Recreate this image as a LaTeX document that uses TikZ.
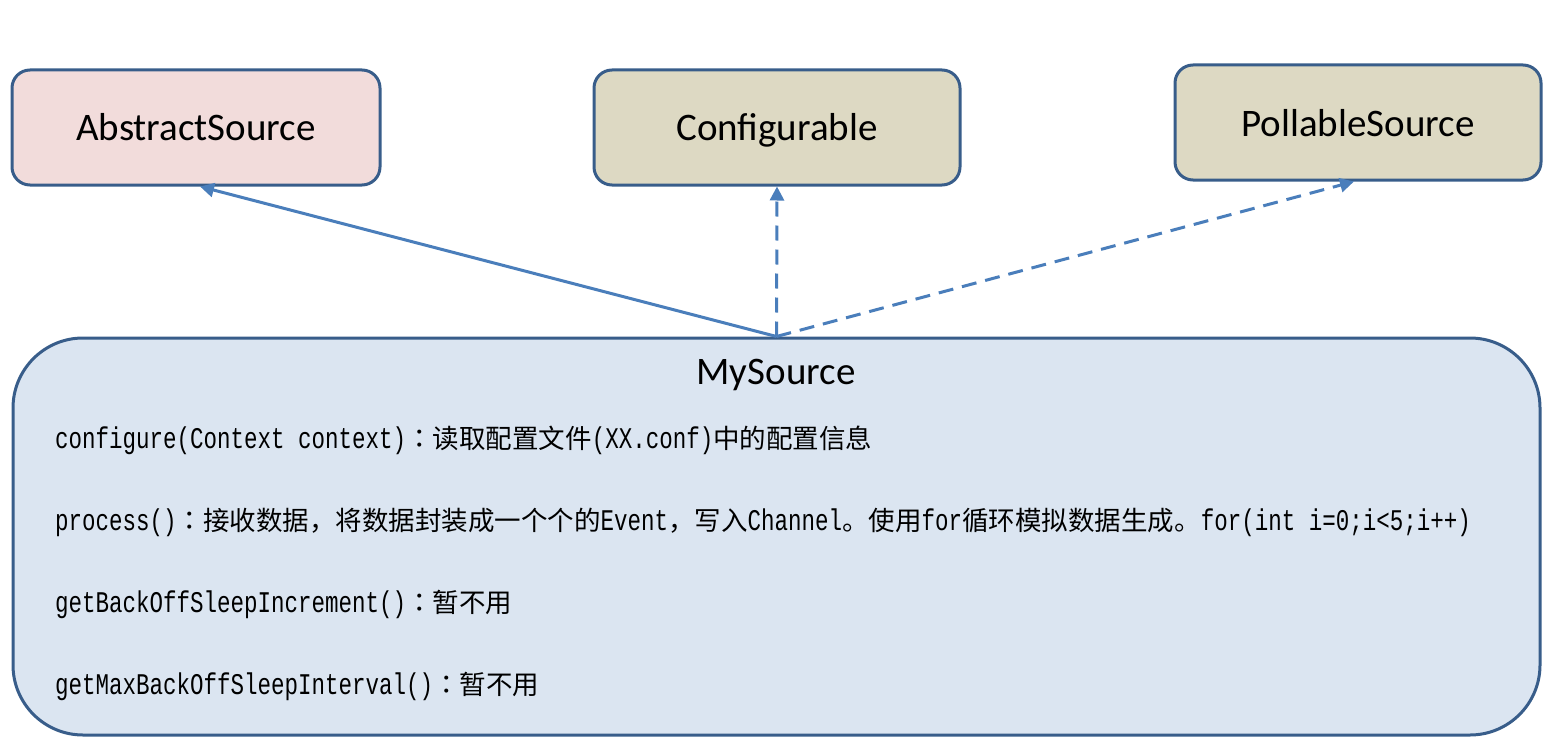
\documentclass[tikz,border=0pt]{standalone}
\usepackage{fontspec}
\setmainfont{Carlito}
\newfontfamily\cjkfont{Noto Sans CJK SC}
\newfontfamily\cjktcfont{Noto Sans CJK TC}
\newfontfamily\monofont[FakeStretch=0.75]{Liberation Mono}
\usetikzlibrary{arrows.meta}
\definecolor{bordercol}{HTML}{385D8A}
\definecolor{arrowcol}{HTML}{4A7EBB}
\definecolor{pinkfill}{HTML}{F2DCDB}
\definecolor{tanfill}{HTML}{DDD9C3}
\definecolor{bluefill}{HTML}{DBE5F1}
\newcommand{\zh}[1]{{\cjkfont\fontsize{26.5}{30}\selectfont #1}}
\newcommand{\zhcolon}{{\cjktcfont\fontsize{26.5}{30}\selectfont ：}}
\newcommand{\mn}[1]{{\monofont\fontsize{30}{32}\selectfont #1}}
\begin{document}
\begin{tikzpicture}[x=1pt,y=-1pt,
  classbox/.style={draw=bordercol, line width=3pt, rounded corners=18pt,
    minimum width=366pt, minimum height=115pt, inner sep=0pt,
    text height=27pt, text depth=0pt,
    font=\fontsize{39}{44}\selectfont},
  mainbox/.style={draw=bordercol, line width=3pt, rounded corners=70pt,
    fill=bluefill, minimum width=1527pt, minimum height=397pt, inner sep=0pt},
  methodtext/.style={anchor=west, inner sep=0pt},
  rel/.style={draw=arrowcol, line width=3pt, -{Triangle[length=14pt,width=14pt]}},
  realize/.style={rel, dash pattern=on 15pt off 9pt}]
\useasboundingbox (0,0) rectangle (1552,741);
\node[classbox, fill=pinkfill, minimum width=368pt] (abs) at (196,127.5) {AbstractSource};
\node[classbox, fill=tanfill] (conf) at (777,127.5) {Configurable};
\node[classbox, fill=tanfill] (poll) at (1358,122.5) {PollableSource};
\node[mainbox] (my) at (776.5,536.5) {};
\node[font=\fontsize{39}{44}\selectfont, inner sep=0pt, anchor=base] (title) at (776,384) {MySource};
\node[methodtext] (m1) at (55,440) {\mn{configure(Context context)}\zhcolon\zh{读取配置文件}\mn{(XX.conf)}\zh{中的配置信息}};
\node[methodtext] (m2) at (55,522) {\mn{process()}\zhcolon\zh{接收数据，将数据封装成一个个的}\mn{Event}\zh{，写入}\mn{Channel}\zh{。使用}\mn{for}\zh{循环模拟数据生成。}\mn{for(int i=0;i<5;i++)}};
\node[methodtext] (m3) at (55,604) {\mn{getBackOffSleepIncrement()}\zhcolon\zh{暂不用}};
\node[methodtext] (m4) at (55,686) {\mn{getMaxBackOffSleepInterval()}\zhcolon\zh{暂不用}};
\coordinate (src) at (my.north);
\draw[rel] (src) -- ([xshift=4pt]abs.south);
\draw[realize] (src) -- (conf.south);
\draw[realize] (src) -- ([xshift=-4pt]poll.south);
\end{tikzpicture}
\end{document}
